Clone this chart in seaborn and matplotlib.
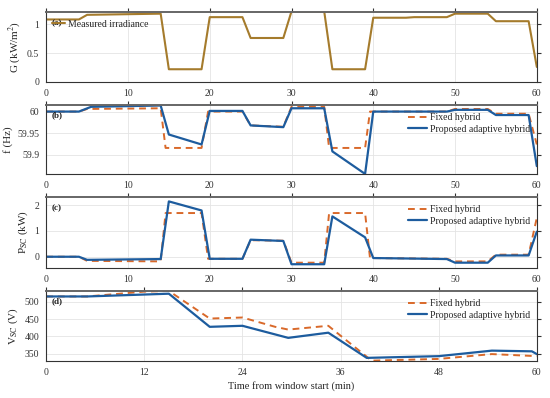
import numpy as np
import pandas as pd
import matplotlib
matplotlib.use('Agg')
import matplotlib.pyplot as plt
import seaborn as sns

# irradiance (a)
g_t = [0, 4, 5, 14, 15, 19, 20, 24, 25, 29, 30, 34, 35, 39, 40, 44, 45, 49, 50, 54, 55, 59, 60]
g_v = [1.08, 1.08, 1.16, 1.18, 0.22, 0.22, 1.12, 1.12, 0.76, 0.76, 1.22, 1.22, 0.22, 0.22,
       1.11, 1.11, 1.12, 1.12, 1.18, 1.18, 1.05, 1.05, 0.26]

# frequency (b)
fb_t = [0, 4, 5.5, 14, 15, 19, 20, 24, 25, 29, 30, 34, 35, 39, 40, 49, 50, 54, 55, 59, 60]
fb_v = [60.0, 60.0, 60.011, 60.014, 59.947, 59.924, 60.0015, 60.0015, 59.968, 59.964, 60.0076,
        60.0076, 59.908, 59.856, 60.0, 60.0, 60.004, 60.004, 59.992, 59.992, 59.874]
fo_t = [0, 4, 5, 14, 14.6, 19, 19.8, 24, 25, 29, 30, 34, 34.6, 39, 39.6, 49, 50, 54, 55, 59, 60]
fo_v = [60.0, 60.0, 60.006, 60.0076, 59.916, 59.916, 60.0, 60.0, 59.968, 59.965, 60.011, 60.011,
        59.916, 59.916, 60.0, 60.0, 60.006, 60.006, 59.995, 59.995, 59.924]

# supercapacitor power (c)
pb_t = [0, 4, 5, 14, 15, 19, 20, 24, 25, 29, 30, 34, 35, 39, 40, 49, 50, 54, 55, 59, 60]
pb_v = [0, 0, -0.12, -0.09, 2.14, 1.79, -0.08, -0.08, 0.66, 0.61, -0.29, -0.29, 1.56, 0.75,
        -0.05, -0.09, -0.23, -0.23, 0.05, 0.05, 0.97]
po_t = [0, 4, 5, 14, 14.6, 19, 19.8, 24, 25, 29, 30, 34, 34.6, 39, 39.6, 49, 50, 54, 55, 59, 60]
po_v = [0, 0, -0.16, -0.18, 1.69, 1.69, -0.08, -0.08, 0.64, 0.62, -0.23, -0.23, 1.69, 1.69,
        -0.05, -0.08, -0.18, -0.18, 0.08, 0.08, 1.5]

# supercapacitor voltage (d)
vb_t = [0, 5, 15, 20, 24, 29.6, 34.5, 39.2, 48, 54.5, 59.4, 60]
vb_v = [516, 516, 524, 428, 431, 396, 411, 338, 343, 359, 357, 349]
vo_t = [0, 5, 12, 15, 20, 24, 28, 29.6, 34.5, 39.8, 48, 54.5, 60]
vo_v = [516, 516, 530, 532, 452, 455, 428, 420, 431, 330, 335, 349, 343]

sns.set_style('white')
plt.rcParams['font.family'] = ['Liberation Serif', 'DejaVu Serif']
plt.rcParams['mathtext.fontset'] = 'stix'
plt.rcParams['font.size'] = 7

c_gold = '#a57b2c'
c_blue = '#1d5c9e'
c_orange = '#d9692a'

fig = plt.figure(figsize=(5.5, 3.98), dpi=100)
left, width = 0.084, 0.892
boxes = [(0.794, 0.176), (0.563, 0.173), (0.327, 0.178), (0.093, 0.176)]
axes = [fig.add_axes([left, b, width, h]) for b, h in boxes]


def style(ax, xticks):
    ax.set_xlim(0, 60)
    ax.set_xticks(xticks)
    ax.grid(True, color='#e4e4e4', lw=0.6)
    ax.tick_params(direction='out', length=3, width=0.8, top=True, right=True,
                   labelsize=7, colors='#333333', pad=2)
    for side in ['left', 'bottom', 'right']:
        ax.spines[side].set_color('#333333')
        ax.spines[side].set_linewidth(0.8)
    ax.spines['top'].set_color('#666666')
    ax.spines['top'].set_linewidth(1.4)
    ax.set_xlabel('')


def pair(ax, t1, v1, t2, v2):
    sns.lineplot(x=t2, y=v2, ax=ax, color=c_orange, lw=1.4, estimator=None,
                 label='Fixed hybrid', dashes=False)
    ax.lines[-1].set_linestyle((0, (3.5, 2.5)))
    sns.lineplot(x=t1, y=v1, ax=ax, color=c_blue, lw=1.6, estimator=None,
                 label='Proposed adaptive hybrid')
    ax.legend(loc='upper right', frameon=False, fontsize=7, handlelength=2.0,
              handletextpad=0.3, labelspacing=0.25, borderaxespad=0.3,
              bbox_to_anchor=(1.0, 0.98))


ax = axes[0]
sns.lineplot(x=g_t, y=g_v, ax=ax, color=c_gold, lw=1.5, estimator=None,
             label='Measured irradiance')
ax.set_ylim(0, 1.21)
ax.set_yticks([0, 0.5, 1])
ax.set_yticklabels(['0', '0.5', '1'])
ax.set_ylabel(r'G (kW/m$^2$)', fontsize=8, labelpad=3)
ax.legend(loc='upper left', frameon=False, fontsize=7, handlelength=1.3,
          handletextpad=0.3, borderaxespad=0.2, bbox_to_anchor=(0.0, 0.97))
style(ax, range(0, 61, 10))

ax = axes[1]
pair(ax, fb_t, fb_v, fo_t, fo_v)
ax.set_ylim(59.856, 60.015)
ax.set_yticks([59.9, 59.95, 60])
ax.set_yticklabels(['59.9', '59.95', '60'])
ax.set_ylabel('f (Hz)', fontsize=8, labelpad=3)
style(ax, range(0, 61, 10))

ax = axes[2]
pair(ax, pb_t, pb_v, po_t, po_v)
ax.set_ylim(-0.43, 2.31)
ax.set_yticks([0, 1, 2])
ax.set_ylabel(r'P$_{\mathrm{SC}}$ (kW)', fontsize=8, labelpad=3)
style(ax, range(0, 61, 10))

ax = axes[3]
pair(ax, vb_t, vb_v, vo_t, vo_v)
ax.set_ylim(329, 532)
ax.set_yticks([350, 400, 450, 500])
ax.set_ylabel(r'V$_{\mathrm{SC}}$ (V)', fontsize=8, labelpad=3)
style(ax, range(0, 61, 12))
ax.set_xlabel('Time from window start (min)', fontsize=7.5, labelpad=3)

for ax, lab, yy in zip(axes, ['(a)', '(b)', '(c)', '(d)'], [0.84, 0.855, 0.845, 0.857]):
    ax.text(0.012, yy, lab, transform=ax.transAxes, fontsize=6.5, fontweight='bold',
            va='center', ha='left', color='#222222')

fig.savefig('out.png', dpi=100)
